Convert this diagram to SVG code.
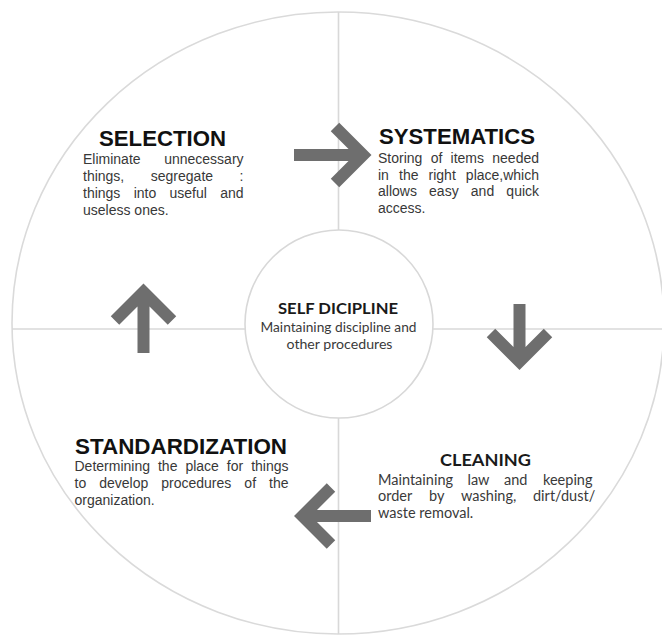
<svg xmlns="http://www.w3.org/2000/svg" width="662" height="635" viewBox="0 0 662 635">
  <style>
    .ring { fill: #ffffff; stroke: #dadada; stroke-width: 1.6; }
    .div { stroke: #d8d8d8; stroke-width: 1.6; fill: none; }
    .arrow { fill: none; stroke: #6e6e6e; stroke-width: 12; stroke-linejoin: miter; stroke-linecap: butt; stroke-miterlimit: 4; }
    .h { font-family: "Liberation Sans", Arial, sans-serif; font-weight: bold; font-size: 21.5px; fill: #111111; }
    .b { font-family: "Liberation Sans", Arial, sans-serif; font-size: 14px; fill: #383838; }
    .ch { font-family: Lato, "Noto Sans", sans-serif; font-weight: bold; fill: #1a1a1a; }
    .cb { font-family: Lato, "Noto Sans", sans-serif; fill: #3a3a3a; }
  </style>
  <rect width="662" height="635" fill="#ffffff"/>
  <g id="background">
    <ellipse class="ring" cx="338" cy="323" rx="326" ry="311"/>
    <line class="div" x1="338.5" y1="12" x2="338.5" y2="634"/>
    <line class="div" x1="12" y1="329" x2="662" y2="329"/>
  </g>
  <g id="connectors">
    <path class="arrow" d="M294,155 H362 M335,127 L363,155 L335,183"/>
    <path class="arrow" d="M519.5,304 V360 M491,333 L519.5,361.5 L548,333"/>
    <path class="arrow" d="M371,516 H303 M331,487.5 L302.5,516 L331,544.5"/>
    <path class="arrow" d="M143.5,353 V293 M115,320.5 L143.5,292 L172,320.5"/>
  </g>
  <g id="self-discipline">
    <circle cx="339" cy="324" r="94" fill="#ffffff" stroke="#d8d8d8" stroke-width="1.6"/>
    <text class="ch" x="338" y="313.5" font-size="16" text-anchor="middle" textLength="120" lengthAdjust="spacingAndGlyphs">SELF DICIPLINE</text>
    <text class="cb" x="338.5" y="332" font-size="13.5" text-anchor="middle" textLength="156" lengthAdjust="spacingAndGlyphs">Maintaining discipline and</text>
    <text class="cb" x="339.5" y="348.5" font-size="13.5" text-anchor="middle" textLength="106" lengthAdjust="spacingAndGlyphs">other procedures</text>
  </g>
  <g id="selection">
    <text class="h" x="99" y="145.5" textLength="127" lengthAdjust="spacingAndGlyphs">SELECTION</text>
    <text class="b" x="83" y="164" word-spacing="19.7">Eliminate unnecessary</text>
    <text class="b" x="83" y="181" word-spacing="22.66">things, segregate :</text>
    <text class="b" x="83" y="198" word-spacing="9.4">things into useful and</text>
    <text class="b" x="83" y="215">useless ones.</text>
  </g>
  <g id="systematics">
    <text class="h" x="379" y="143.5" textLength="156" lengthAdjust="spacingAndGlyphs">SYSTEMATICS</text>
    <text class="b" x="378" y="163" word-spacing="4.38">Storing of items needed</text>
    <text class="b" x="378" y="179.5" word-spacing="6.2">in the right place,which</text>
    <text class="b" x="378" y="196" word-spacing="8.28">allows easy and quick</text>
    <text class="b" x="378" y="212.5">access.</text>
  </g>
  <g id="cleaning">
    <text class="ch" x="440" y="466" font-size="17.5" textLength="91" lengthAdjust="spacingAndGlyphs">CLEANING</text>
    <text class="cb" y="484.5" font-size="14.5"><tspan x="378">Maintaining </tspan><tspan x="467.5">law </tspan><tspan x="504">and </tspan><tspan x="543">keeping</tspan></text>
    <text class="cb" y="501" font-size="14.5"><tspan x="378">order </tspan><tspan x="429">by </tspan><tspan x="461">washing, </tspan><tspan x="533">dirt/dust/</tspan></text>
    <text class="cb" x="378" y="517.5" font-size="14.5">waste removal.</text>
  </g>
  <g id="standardization">
    <text class="h" x="75" y="453.5" textLength="212" lengthAdjust="spacingAndGlyphs">STANDARDIZATION</text>
    <text class="b" x="74.5" y="471" word-spacing="4.09">Determining the place for things</text>
    <text class="b" x="74.5" y="488" word-spacing="9.14">to develop procedures of the</text>
    <text class="b" x="74.5" y="505">organization.</text>
  </g>
</svg>
